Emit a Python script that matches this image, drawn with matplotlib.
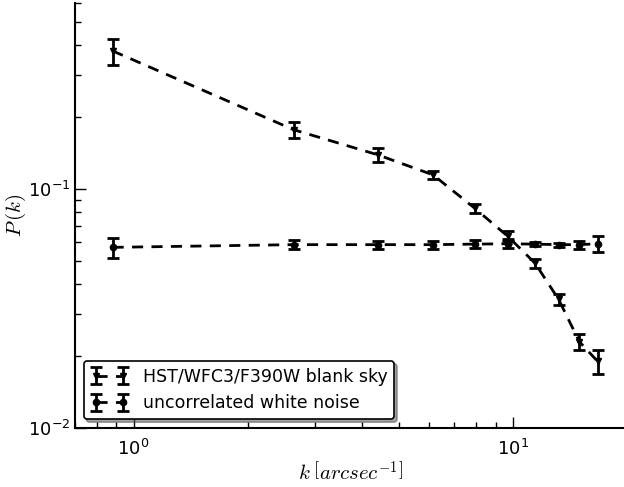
import matplotlib
matplotlib.use("Agg")
import matplotlib.pyplot as plt

# k bins [arcsec^-1]
k = [0.88, 2.64, 4.40, 6.16, 7.92, 9.68, 11.44, 13.20, 14.96, 16.72]

# HST/WFC3/F390W blank sky power spectrum
p_sky = [0.378, 0.177, 0.139, 0.1145, 0.0832, 0.0635, 0.0489, 0.0345, 0.0230, 0.0190]
e_sky = [0.047, 0.013, 0.009, 0.0045, 0.0037, 0.003, 0.002, 0.0017, 0.0017, 0.0022]

# uncorrelated white noise
p_white = [0.057, 0.0585, 0.0585, 0.0585, 0.0588, 0.0590, 0.0588, 0.0585, 0.0585, 0.0590]
e_white = [0.0055, 0.0025, 0.0022, 0.0022, 0.0022, 0.0025, 0.0012, 0.0012, 0.0022, 0.0046]

plt.rcParams["mathtext.fontset"] = "cm"
plt.rcParams["font.family"] = "DejaVu Sans"

fig = plt.figure(figsize=(6.24, 4.87), dpi=100)
ax = fig.add_axes([0.120, 0.121, 0.885, 0.873])

ax.errorbar(k, p_sky, yerr=e_sky, fmt="v--", color="k", ms=4.5, lw=2,
            elinewidth=2, capsize=4, capthick=2, dashes=(4, 3),
            label="HST/WFC3/F390W blank sky")
ax.errorbar(k, p_white, yerr=e_white, fmt="o--", color="k", ms=4.5, lw=2,
            elinewidth=2, capsize=4, capthick=2, dashes=(4, 3),
            label="uncorrelated white noise")

ax.set_xscale("log")
ax.set_yscale("log")
ax.set_xlim(0.7, 20)
ax.set_ylim(0.01, 0.6)

ax.spines["top"].set_visible(False)
ax.spines["right"].set_visible(False)
for s in ("left", "bottom"):
    ax.spines[s].set_linewidth(1.5)
ax.tick_params(which="both", direction="in", top=False, right=False, labelsize=13)
ax.tick_params(which="major", length=8, width=1)
ax.tick_params(which="minor", length=4, width=1)
ax.tick_params(axis="x", pad=8)

ax.set_xlabel(r"$k\;\left[arcsec^{-1}\right]$", fontsize=15)
ax.set_ylabel(r"$P\,(k)$", fontsize=15)
ax.xaxis.set_label_coords(0.5, -0.076)
ax.yaxis.set_label_coords(-0.085, 0.5)

leg = ax.legend(loc="lower left", numpoints=2, shadow=True, fancybox=True,
                fontsize=12.5, handlelength=2.2, borderaxespad=0.5,
                framealpha=1, edgecolor="k")
leg.get_frame().set_linewidth(1.2)

fig.savefig("out.png", dpi=100)
